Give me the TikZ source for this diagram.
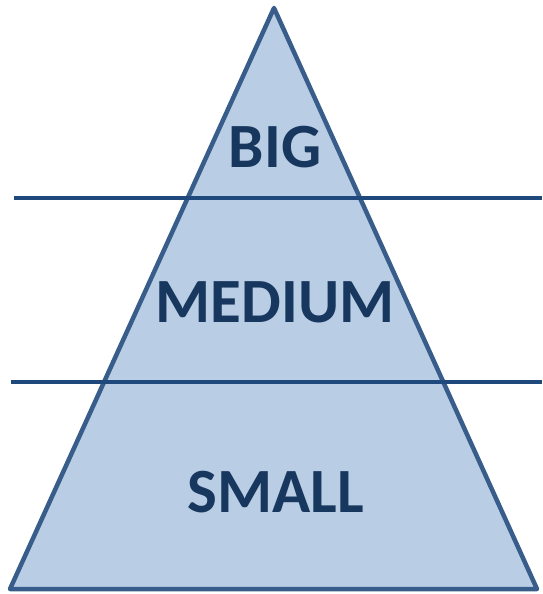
\documentclass[tikz,border=0pt]{standalone}
\usepackage{fontspec}
\setmainfont{Carlito}
\definecolor{tfill}{HTML}{B9CDE5}
\definecolor{tline}{HTML}{385D8A}
\definecolor{hline}{HTML}{1F497D}
\definecolor{ttext}{HTML}{17375E}
\begin{document}
\begin{tikzpicture}[x=1pt,y=-1pt,
  lbl/.style={font=\bfseries\fontsize{63}{63}\selectfont, text=ttext, anchor=base, inner sep=0pt},
  sep/.style={draw=hline, line width=4.5pt}]
\useasboundingbox (0,0) rectangle (542,594);
\coordinate (apex) at (274,8);
\coordinate (bl) at (10,589);
\coordinate (br) at (537,589);
\draw[fill=tfill, draw=tline, line width=4.5pt, line join=round] (apex) -- (br) -- (bl) -- cycle;
\coordinate (l1a) at (14,198);
\coordinate (l1b) at (542,198);
\coordinate (l2a) at (11,382);
\coordinate (l2b) at (542,382);
\draw[sep] (l1a) -- (l1b);
\draw[sep] (l2a) -- (l2b);
\node[lbl] (big) at (275,167) {BIG};
\node[lbl] (medium) at (275,322) {MEDIUM};
\node[lbl] (small) at (276,512) {SMALL};
\end{tikzpicture}
\end{document}
